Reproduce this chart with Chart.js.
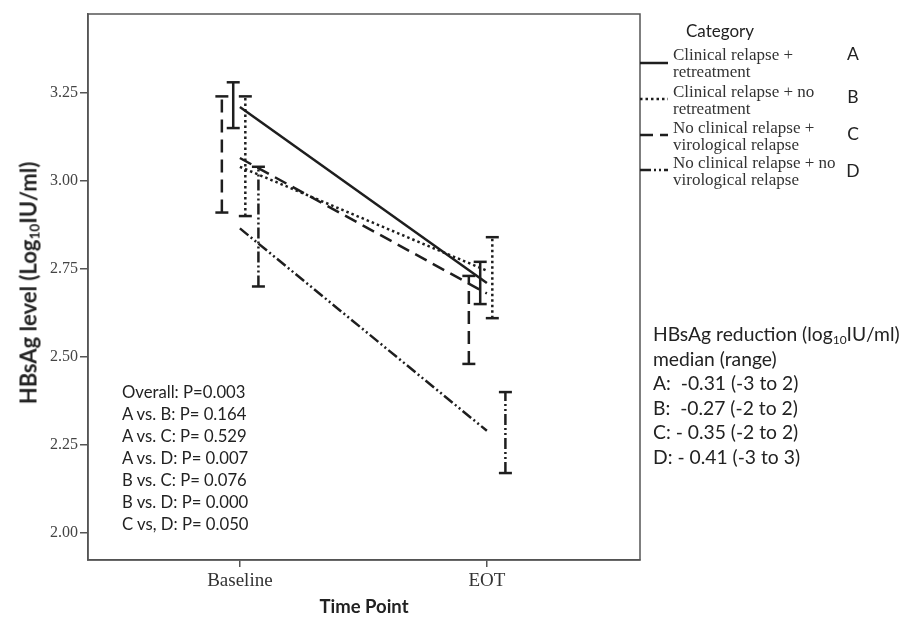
<!DOCTYPE html>
<html>
<head>
<meta charset="utf-8">
<script src="https://cdn.jsdelivr.net/npm/chart.js@4.4.1/dist/chart.umd.min.js"></script>
<style>
  body { margin: 0; background: #fff; }
  #wrap { position: relative; width: 900px; height: 623px; }
  .t { position: absolute; white-space: pre; color: #222; }
  .sans { font-family: Lato, "Open Sans", sans-serif; }
  .serif { font-family: "Liberation Serif", "DejaVu Serif", serif; }
  sub { font-size: 0.62em; vertical-align: -0.25em; line-height: 0; }
  #ytitle { left: 28px; top: 283px; transform: translate(-50%, -50%) rotate(-90deg); font-weight: bold; font-size: 22px; }
  #xtitle { left: 364px; top: 606px; transform: translate(-50%, -50%); font-weight: bold; font-size: 18.5px; }
  #cat { left: 720px; top: 30px; transform: translate(-50%, -50%); font-size: 17px; }
  .leg { left: 673px; font-size: 17px; line-height: 17px; color: #333; }
  .letter { left: 853px; font-size: 17.5px; transform: translate(-50%, -50%); }
  #pvals { left: 122px; top: 381px; font-size: 16.7px; line-height: 22px; }
  #reduc { left: 653px; top: 322px; font-size: 19.3px; line-height: 24.5px; }
</style>
</head>
<body>
<div id="wrap">
  <canvas id="chart" width="900" height="623"></canvas>
  <div id="ytitle" class="t sans">HBsAg level (Log<sub>10</sub>IU/ml)</div>
  <div id="xtitle" class="t sans">Time Point</div>
  <div id="cat" class="t sans">Category</div>
  <div id="legend"></div>
  <div id="pvals" class="t sans"></div>
  <div id="reduc" class="t sans"></div>
</div>
<script>
// data
const timePoints = ['Baseline', 'EOT'];
const groupKeys = ['A', 'B', 'C', 'D'];
const groupNames = [
  ['Clinical relapse +', 'retreatment'],
  ['Clinical relapse + no', 'retreatment'],
  ['No clinical relapse +', 'virological relapse'],
  ['No clinical relapse + no', 'virological relapse']
];
const meanA = [3.21, 2.71];
const meanB = [3.04, 2.745];
const meanC = [3.065, 2.68];
const meanD = [2.865, 2.29];
const lowA = [3.15, 2.65], highA = [3.28, 2.77];
const lowB = [2.90, 2.61], highB = [3.24, 2.84];
const lowC = [2.91, 2.48], highC = [3.24, 2.73];
const lowD = [2.70, 2.17], highD = [3.04, 2.40];
const yTicks = [2.00, 2.25, 2.50, 2.75, 3.00, 3.25];
const pTests = [
  'Overall: P=0.003', 'A vs. B: P= 0.164', 'A vs. C: P= 0.529', 'A vs. D: P= 0.007',
  'B vs. C: P= 0.076', 'B vs. D: P= 0.000', 'C vs, D: P= 0.050'
];
const reductions = ['A:  -0.31 (-3 to 2)', 'B:  -0.27 (-2 to 2)', 'C: - 0.35 (-2 to 2)', 'D: - 0.41 (-3 to 3)'];

// styles / layout
const ink = '#1e1e1e';
const dashes = [[], [2.5, 3], [13, 7], [11, 3, 2, 3, 2, 3]];
const barShift = [-0.027, 0.022, -0.073, 0.075];
const legendTop = [46, 83, 119, 154];
const legendLineY = [63, 99, 135, 170];
const letterY = [53, 96, 133, 170];

const means = [meanA, meanB, meanC, meanD];
const lows = [lowA, lowB, lowC, lowD];
const highs = [highA, highB, highC, highD];

// text blocks
document.getElementById('legend').innerHTML = groupNames.map((n, i) => `
  <div class="t serif leg" style="top:${legendTop[i]}px">${n.join('\n')}</div>
  <div class="t sans letter" style="top:${letterY[i]}px">${groupKeys[i]}</div>`).join('');
document.getElementById('pvals').textContent = pTests.join('\n');
document.getElementById('reduc').innerHTML =
  'HBsAg reduction (log<sub>10</sub>IU/ml),\nmedian (range)\n' + reductions.join('\n');

const datasets = [];
means.forEach((m, i) => {
  datasets.push({
    data: timePoints.map((_, t) => ({ x: t, y: m[t] })),
    borderColor: ink, borderWidth: 2.5, borderDash: dashes[i],
    pointRadius: 0, borderCapStyle: 'butt'
  });
});
means.forEach((m, i) => {
  const s = barShift[i];
  datasets.push({
    data: [
      { x: s, y: lows[i][0] }, { x: s, y: highs[i][0] },
      { x: 0.5, y: null },
      { x: 1 + s, y: lows[i][1] }, { x: 1 + s, y: highs[i][1] }
    ],
    borderColor: ink, borderWidth: 2.5, borderDash: dashes[i],
    pointStyle: 'line', pointRadius: 6.5, pointBorderWidth: 2.5,
    pointBorderColor: ink, spanGaps: false
  });
});

const frame = {
  id: 'frame',
  afterDraw(chart) {
    const { ctx, chartArea: a } = chart;
    ctx.save();
    ctx.strokeStyle = '#555';
    ctx.lineWidth = 1.5;
    ctx.strokeRect(a.left, a.top, a.right - a.left, a.bottom - a.top);
    // legend samples hanging off the right frame
    ctx.strokeStyle = ink;
    ctx.lineWidth = 2.5;
    legendLineY.forEach((y, i) => {
      ctx.setLineDash(dashes[i]);
      ctx.beginPath();
      ctx.moveTo(a.right, y);
      ctx.lineTo(a.right + 28, y);
      ctx.stroke();
    });
    ctx.restore();
  }
};

new Chart(document.getElementById('chart'), {
  type: 'line',
  data: { datasets },
  plugins: [frame],
  options: {
    responsive: false,
    animation: false,
    events: [],
    layout: { padding: { left: 0, top: 14, right: 260, bottom: 0 } },
    plugins: { legend: { display: false }, tooltip: { enabled: false } },
    scales: {
      x: {
        type: 'linear', min: -0.615, max: 1.62,
        afterBuildTicks: s => { s.ticks = timePoints.map((_, i) => ({ value: i })); },
        afterFit: s => { s.height = 63; },
        ticks: {
          callback: v => timePoints[v],
          color: '#333', padding: 3,
          font: { family: '"Liberation Serif", serif', size: 19 }
        },
        grid: { drawOnChartArea: false, tickLength: 7, color: '#555', lineWidth: 1.5 },
        border: { color: '#555', width: 1.5 }
      },
      y: {
        min: 1.923, max: 3.474,
        afterBuildTicks: s => { s.ticks = yTicks.map(v => ({ value: v })); },
        afterFit: s => { s.width = 88; },
        ticks: {
          callback: v => v.toFixed(2),
          color: '#444', padding: 2,
          font: { family: '"Liberation Serif", serif', size: 16 }
        },
        grid: { drawOnChartArea: false, tickLength: 8, color: '#555', lineWidth: 1.5 },
        border: { color: '#555', width: 1.5 }
      }
    }
  }
});
</script>
</body>
</html>
